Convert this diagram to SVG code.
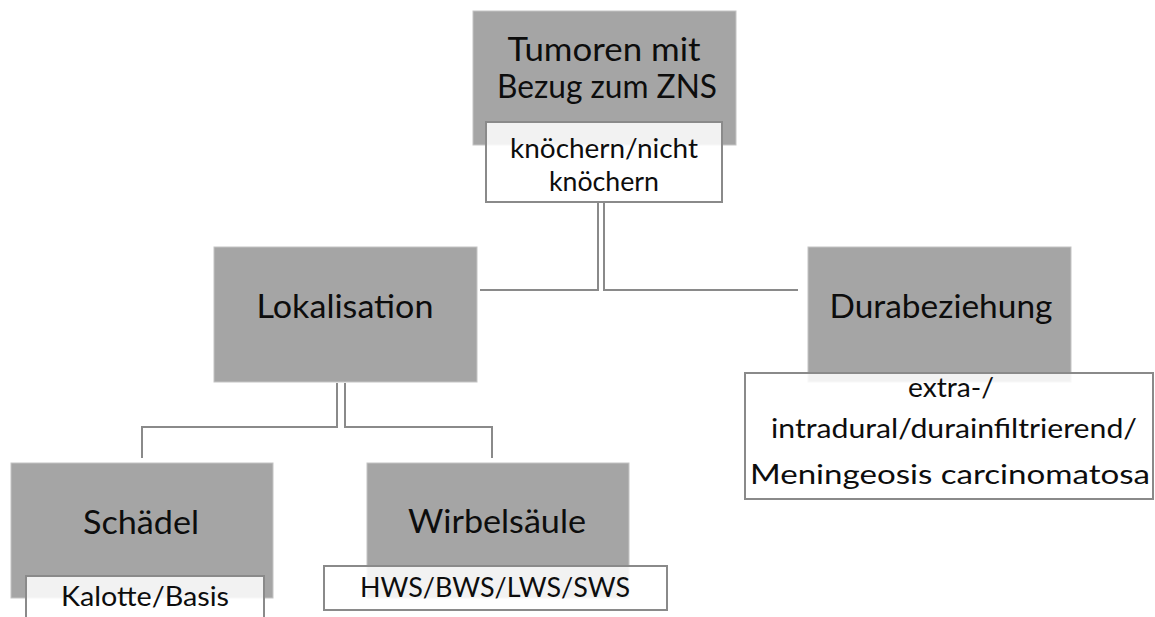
<svg xmlns="http://www.w3.org/2000/svg" width="1155" height="617" viewBox="0 0 1155 617">
<style>
.g{fill:#a5a5a5;stroke:#c4c4c4;stroke-width:1}
.w{fill:#ffffff;fill-opacity:0.86;stroke:#8a8a8a;stroke-width:2}
.c{fill:none;stroke:#8a8a8a;stroke-width:2}
.t{font-family:Lato,"Open Sans","Liberation Sans",sans-serif;fill:#0d0d0d;text-anchor:middle}
.b{font-size:33px}
.s{font-size:27px}
</style>
<rect width="1155" height="617" fill="#ffffff"/>
<g id="connectors">
<path class="c" d="M598,202 V290 H480"/>
<path class="c" d="M604,202 V290 H798"/>
<path class="c" d="M337,383 V427 H142 V458"/>
<path class="c" d="M345,383 V427 H492 V458"/>
</g>
<g id="node-root">
<rect class="g" x="473" y="11" width="263" height="134"/>
<text class="t b" x="604" y="61" textLength="193" lengthAdjust="spacingAndGlyphs">Tumoren mit</text>
<text class="t b" x="607" y="98" textLength="220" lengthAdjust="spacingAndGlyphs">Bezug zum ZNS</text>
</g>
<g id="node-root-sub">
<rect class="w" x="486" y="122" width="236" height="80"/>
<text class="t s" x="604" y="158" textLength="188" lengthAdjust="spacingAndGlyphs">knöchern/nicht</text>
<text class="t s" x="604" y="191" textLength="110" lengthAdjust="spacingAndGlyphs">knöchern</text>
</g>
<g id="node-lokalisation">
<rect class="g" x="214" y="247" width="263" height="135"/>
<text class="t b" x="345" y="318" textLength="177" lengthAdjust="spacingAndGlyphs">Lokalisation</text>
</g>
<g id="node-durabeziehung">
<rect class="g" x="808" y="247" width="263" height="135"/>
<text class="t b" x="941" y="318" textLength="223" lengthAdjust="spacingAndGlyphs">Durabeziehung</text>
</g>
<g id="node-durabeziehung-sub">
<rect class="w" x="745" y="373" width="408" height="126"/>
<text class="t s" x="951" y="397" textLength="86" lengthAdjust="spacingAndGlyphs">extra-/</text>
<text class="t s" x="954" y="438" textLength="366" lengthAdjust="spacingAndGlyphs">intradural/durainfiltrierend/</text>
<text class="t s" x="950" y="484" textLength="400" lengthAdjust="spacingAndGlyphs">Meningeosis carcinomatosa</text>
</g>
<g id="node-schaedel">
<rect class="g" x="11" y="463" width="262" height="135"/>
<text class="t b" x="141" y="534" textLength="116" lengthAdjust="spacingAndGlyphs">Schädel</text>
</g>
<g id="node-schaedel-sub">
<rect class="w" x="26" y="576" width="238" height="60"/>
<text class="t s" x="145" y="606" textLength="168" lengthAdjust="spacingAndGlyphs">Kalotte/Basis</text>
</g>
<g id="node-wirbelsaeule">
<rect class="g" x="367" y="463" width="262" height="135"/>
<text class="t b" x="497" y="533" textLength="178" lengthAdjust="spacingAndGlyphs">Wirbelsäule</text>
</g>
<g id="node-wirbelsaeule-sub">
<rect class="w" x="324" y="566" width="343" height="44"/>
<text class="t s" x="495" y="597" textLength="270" lengthAdjust="spacingAndGlyphs">HWS/BWS/LWS/SWS</text>
</g>
</svg>
